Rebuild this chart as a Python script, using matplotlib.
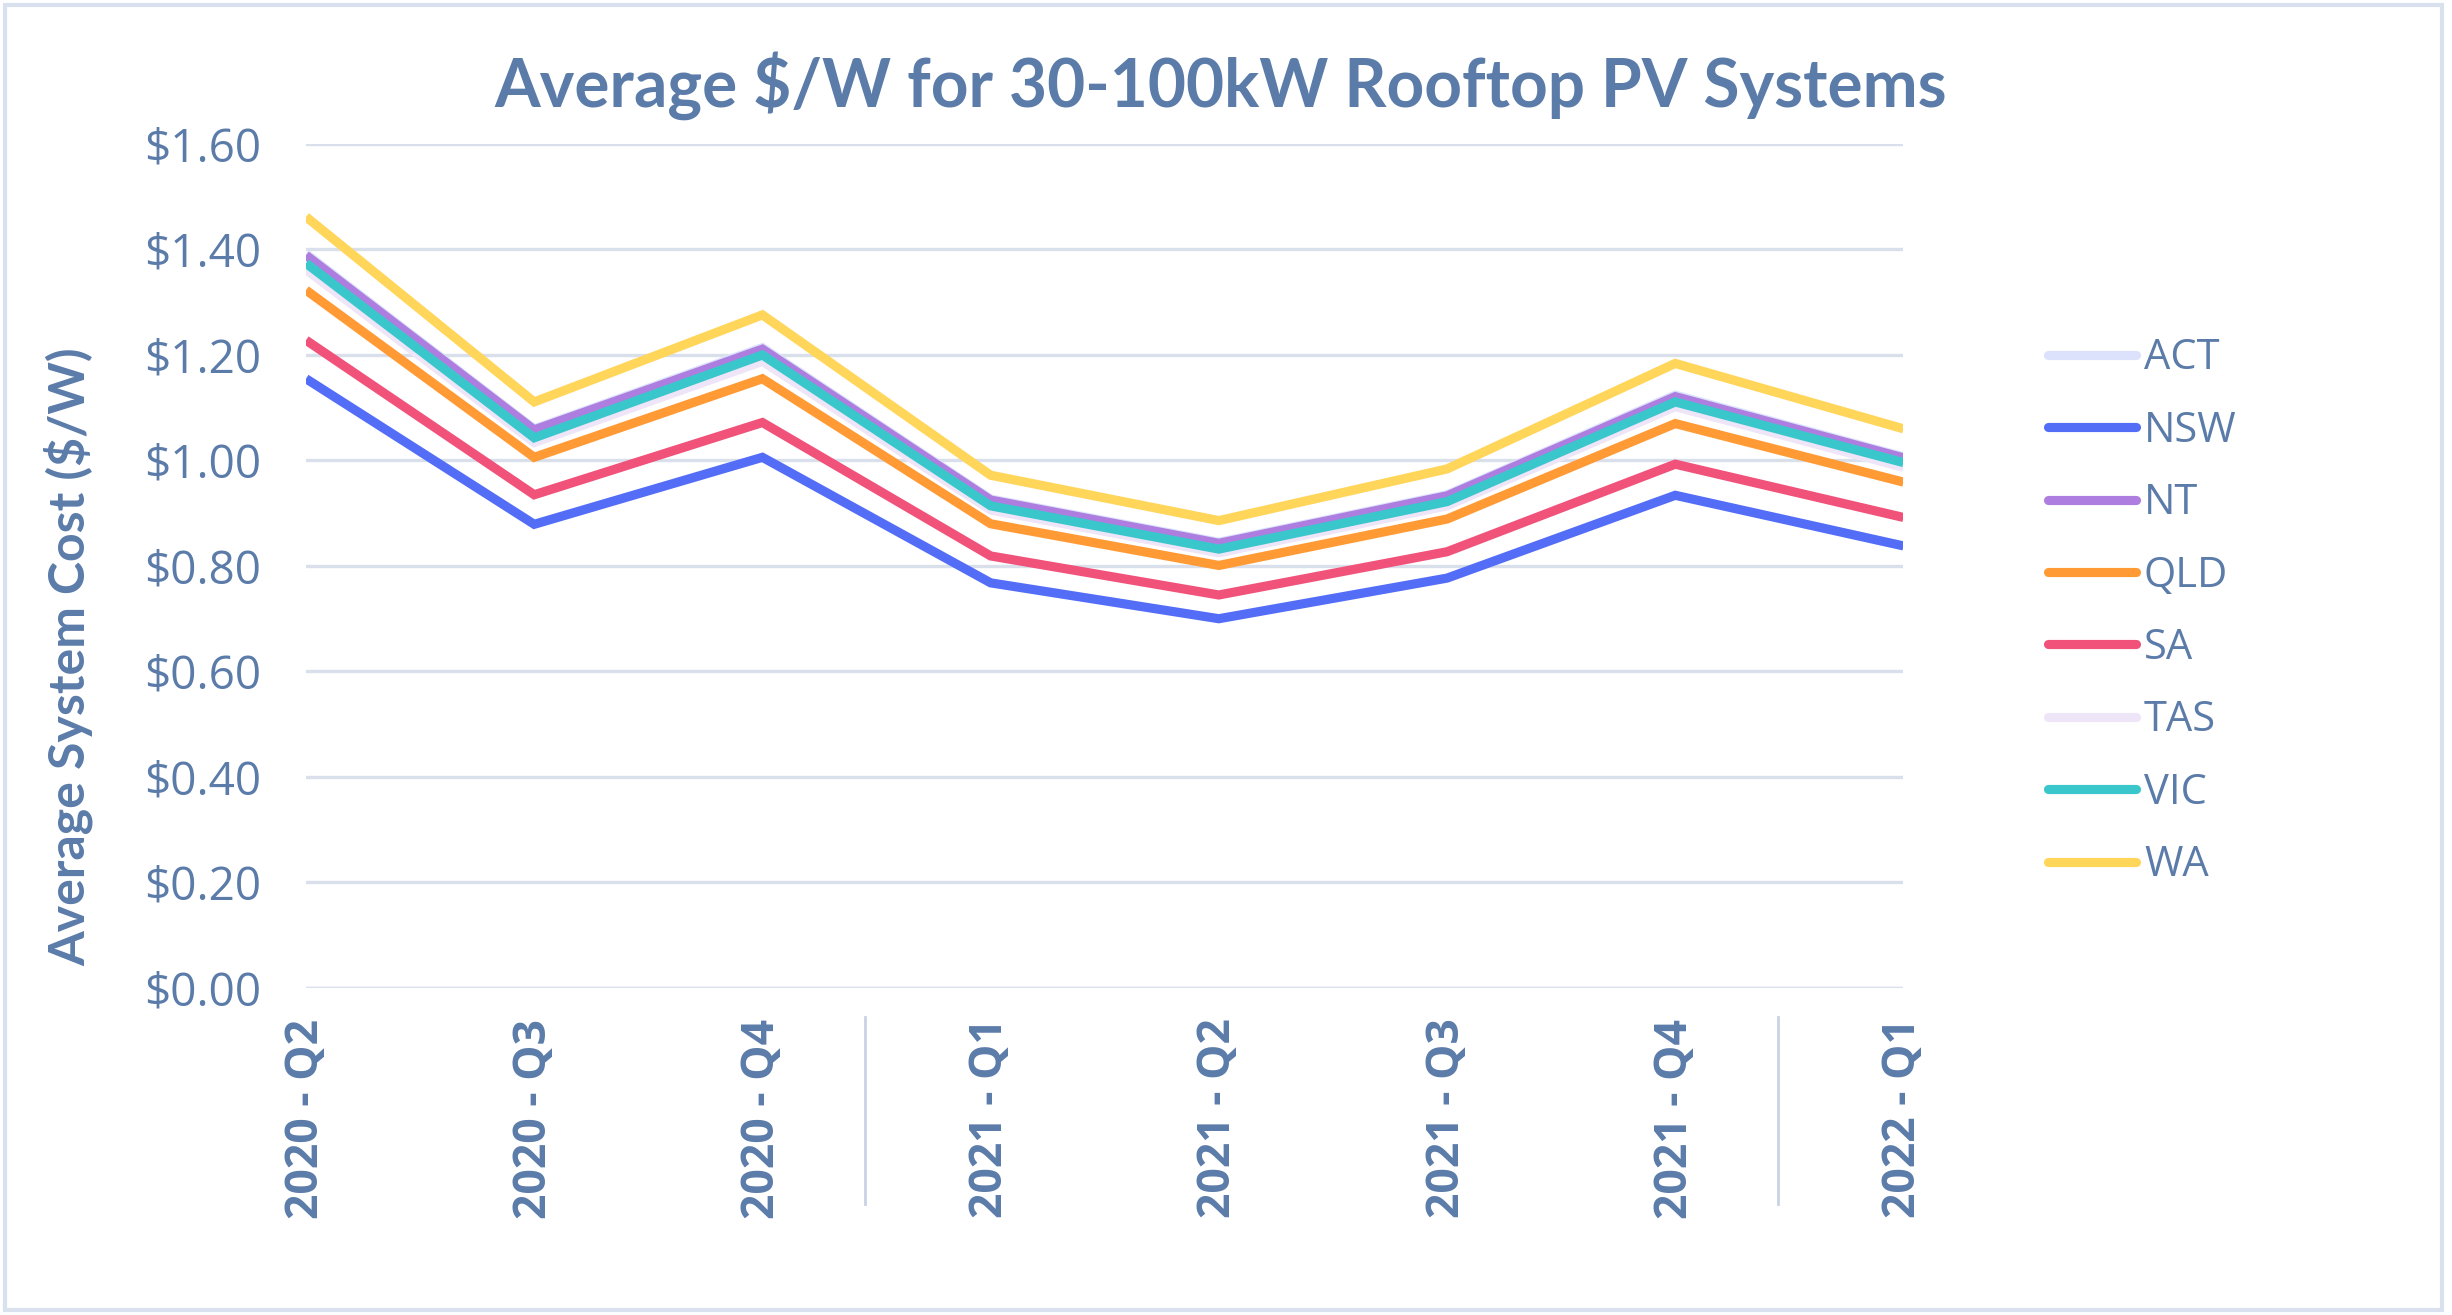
import numpy as np
import matplotlib.pyplot as plt
from matplotlib.patches import Rectangle

# Quarter labels and average $/W per state
quarters = ["2020 - Q2", "2020 - Q3", "2020 - Q4", "2021 - Q1",
            "2021 - Q2", "2021 - Q3", "2021 - Q4", "2022 - Q1"]
ACT = [1.392, 1.060, 1.214, 0.927, 0.845, 0.935, 1.124, 1.007]
NSW = [1.155, 0.879, 1.006, 0.768, 0.700, 0.777, 0.934, 0.838]
NT = [1.389, 1.058, 1.211, 0.925, 0.843, 0.933, 1.121, 1.005]
QLD = [1.323, 1.006, 1.155, 0.880, 0.801, 0.889, 1.070, 0.959]
SA = [1.228, 0.935, 1.072, 0.819, 0.745, 0.827, 0.993, 0.892]
TAS = [1.362, 1.034, 1.188, 0.906, 0.825, 0.914, 1.102, 0.987]
VIC = [1.374, 1.043, 1.200, 0.914, 0.832, 0.922, 1.111, 0.996]
WA = [1.462, 1.111, 1.276, 0.972, 0.886, 0.984, 1.184, 1.060]

states = ["ACT", "NSW", "NT", "QLD", "SA", "TAS", "VIC", "WA"]
series = [ACT, NSW, NT, QLD, SA, TAS, VIC, WA]
colours = ["#DCE2FC", "#536DF7", "#AD7EE0", "#FF9A35",
           "#F0527A", "#EEE5F8", "#3AC7CB", "#FFD55A"]

txt = "#5B7BA9"
grid = "#D9E0EB"

fig = plt.figure(figsize=(12.26, 6.575), dpi=200)
ax = fig.add_axes([0.1248, 0.2487, 0.6515, 0.6418])

x = np.arange(len(quarters))
for name, vals, c in zip(states, series, colours):
    ax.plot(x, vals, color=c, lw=3.3, label=name,
            solid_joinstyle="miter", solid_capstyle="butt")

ax.set_xlim(0, len(quarters) - 1)
ax.set_ylim(0, 1.6)
ax.set_yticks(np.arange(0, 1.61, 0.2))
ax.set_yticklabels(["$%.2f" % v for v in np.arange(0, 1.61, 0.2)],
                   fontfamily="Open Sans", fontsize=16.5, color=txt)
ax.set_xticks(x)
ax.set_xticklabels(quarters, rotation=90, fontfamily="Open Sans",
                   fontweight="bold", fontsize=16, color=txt)
ax.tick_params(axis="y", length=0, pad=16)
ax.tick_params(axis="x", length=0, pad=11)
ax.yaxis.grid(True, color=grid, lw=1.2)
ax.set_axisbelow(True)
for s in ax.spines.values():
    s.set_visible(False)
ax.axhline(0, color=grid, lw=1.2, zorder=0)

# year separators under the category axis
for xs in [2.45, 6.45]:
    ax.plot([xs, xs], [-0.055, -0.41], color="#C9D3E3", lw=1.0,
            clip_on=False)

ax.set_ylabel("Average System Cost ($/W)", fontfamily="Lato",
              fontweight="bold", fontsize=18, color=txt)
ax.yaxis.set_label_coords(-0.133, 0.393)

fig.text(0.498, 0.935, "Average $/W for 30-100kW Rooftop PV Systems",
         ha="center", va="center", fontfamily="Lato", fontweight="bold",
         fontsize=23.7, color=txt)

leg = fig.legend(loc="upper left", bbox_to_anchor=(0.82, 0.772),
                 frameon=False, prop={"family": "Open Sans", "size": 15},
                 handlelength=2.1, handletextpad=0.2, labelspacing=0.73)
for t in leg.get_texts():
    t.set_color(txt)
for h in leg.get_lines():
    h.set_linewidth(3.3)
    h.set_solid_capstyle("round")

fig.patches.append(Rectangle((0.002, 0.004), 0.994, 0.992, transform=fig.transFigure,
                             fill=False, edgecolor="#D9E0EE", lw=1.5))

plt.savefig("out.png", dpi=200)
